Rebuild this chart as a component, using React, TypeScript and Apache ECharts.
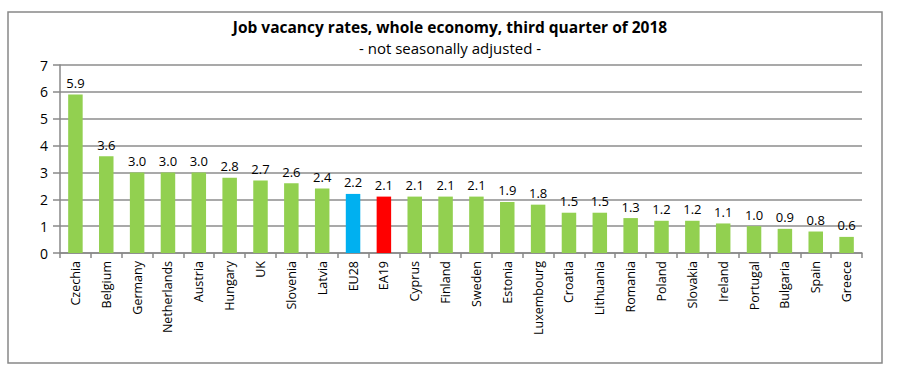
import React, { useEffect, useRef } from "react";
import * as echarts from "echarts";

const categories = ["Czechia","Belgium","Germany","Netherlands","Austria","Hungary","UK","Slovenia","Latvia","EU28","EA19","Cyprus","Finland","Sweden","Estonia","Luxembourg","Croatia","Lithuania","Romania","Poland","Slovakia","Ireland","Portugal","Bulgaria","Spain","Greece"];
const values = [5.9,3.6,3.0,3.0,3.0,2.8,2.7,2.6,2.4,2.2,2.1,2.1,2.1,2.1,1.9,1.8,1.5,1.5,1.3,1.2,1.2,1.1,1.0,0.9,0.8,0.6];
const yTicks = [0,1,2,3,4,5,6,7];

const GREEN = "#92d050";
const BLUE = "#00b0f0";
const RED = "#ff0000";
const FONT = "Open Sans";

export default function App() {
  const ref = useRef<HTMLDivElement>(null);
  useEffect(() => {
    if (!ref.current) return;
    const chart = echarts.init(ref.current, null, { renderer: "svg" });
    chart.setOption({
      animation: false,
      textStyle: { fontFamily: FONT },
      title: [
        { text: "Job vacancy rates, whole economy, third quarter of 2018", left: "center", top: 14,
          textStyle: { fontFamily: FONT, fontWeight: "bold", fontSize: 15.5, color: "#000" } },
        { text: "- not seasonally adjusted -", left: "center", top: 35,
          textStyle: { fontFamily: FONT, fontWeight: "normal", fontSize: 15, color: "#000" } },
      ],
      graphic: [
        { type: "rect", shape: { x: 8, y: 12, width: 874, height: 351 }, style: { fill: "none", stroke: "#888", lineWidth: 1.5 }, z: -1 },
      ],
      grid: { left: 60, right: 38, top: 65, bottom: 113 },
      xAxis: {
        type: "category",
        data: categories,
        axisLine: { show: true, lineStyle: { color: "#888", width: 1.5 } },
        axisTick: { show: true, alignWithLabel: false, length: 5, lineStyle: { color: "#888", width: 1.5 } },
        axisLabel: { rotate: 90, fontSize: 12.5, color: "#000", fontFamily: FONT, margin: 8, interval: 0 },
      },
      yAxis: {
        type: "value",
        min: yTicks[0],
        max: yTicks[yTicks.length - 1],
        interval: 1,
        axisLine: { show: true, lineStyle: { color: "#888", width: 1.5 } },
        axisTick: { show: true, length: 7, lineStyle: { color: "#888", width: 1.5 } },
        axisLabel: { fontSize: 14, color: "#000", fontFamily: FONT, margin: 12 },
        splitLine: { show: true, lineStyle: { color: "#8c8c8c", width: 1.5 } },
      },
      series: [{
        type: "bar",
        barWidth: "47%",
        data: values.map((v, i) => ({
          value: v,
          itemStyle: { color: categories[i] === "EU28" ? BLUE : categories[i] === "EA19" ? RED : GREEN },
        })),
        label: {
          show: true, position: "top", distance: 5, fontSize: 13, color: "#000", fontFamily: FONT,
          formatter: (p: any) => Number(p.value).toFixed(1),
        },
      }],
    });
    return () => chart.dispose();
  }, []);
  return <div ref={ref} style={{ position: "fixed", left: 0, top: 0, width: 900, height: 366, background: "#fff" }} />;
}
